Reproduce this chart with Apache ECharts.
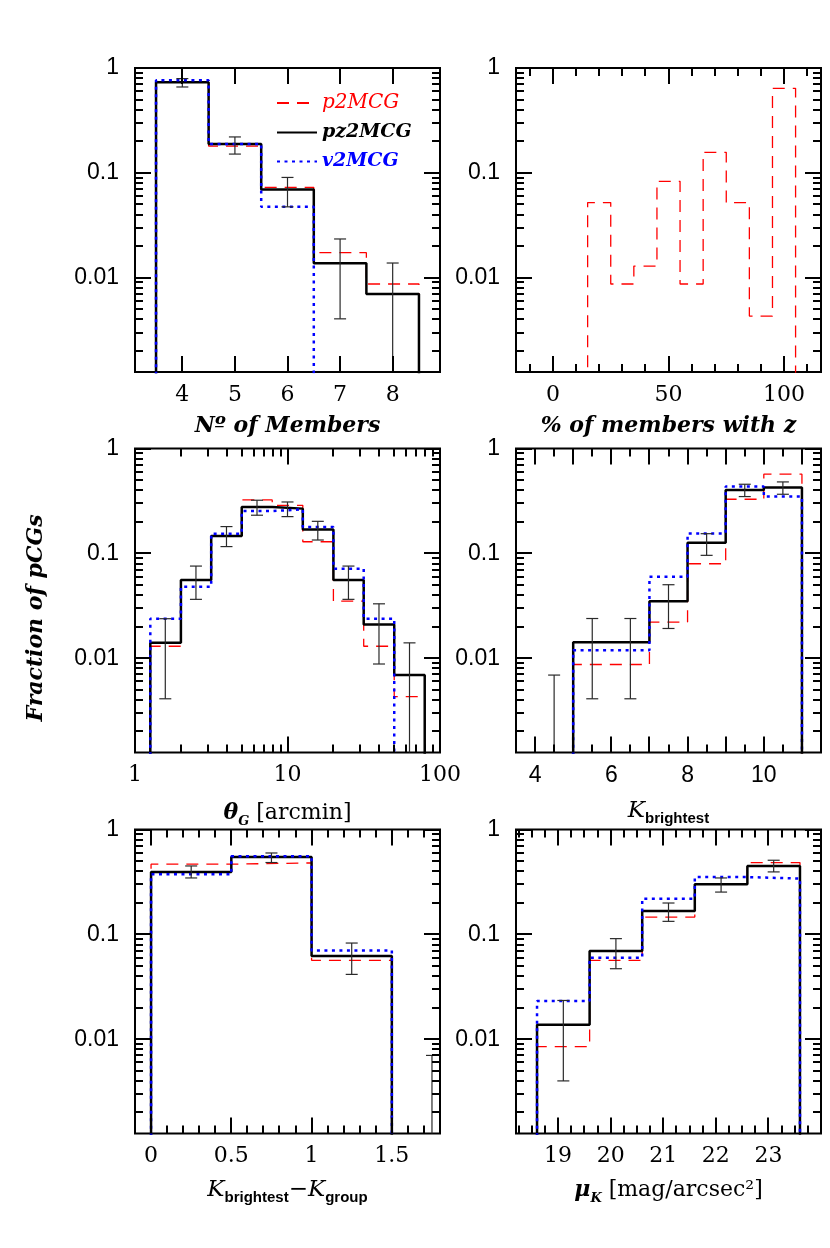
<!DOCTYPE html>
<html>
<head>
<meta charset="utf-8">
<script src="https://cdn.jsdelivr.net/npm/echarts@6.0.0/dist/echarts.min.js"></script>
<style>
html,body{margin:0;padding:0;background:#ffffff;}
#chart{width:830px;height:1248px;}
</style>
</head>
<body>
<div id="chart"></div>
<script>
// ================= DATA =================
// shared y (fraction of pCGs) ticks
const yMajorTicks = [0.01, 0.1, 1];
const yMinorTicks = [0.002,0.003,0.004,0.005,0.006,0.007,0.008,0.009,
                     0.02,0.03,0.04,0.05,0.06,0.07,0.08,0.09,
                     0.2,0.3,0.4,0.5,0.6,0.7,0.8,0.9];
const yTickLabels = [0.01, 0.1, 1];

// Panel 1: number of members
const memEdges = [3.5, 4.5, 5.5, 6.5, 7.5, 8.5];
const memP2  = [0.74, 0.180, 0.0726, 0.0173, 0.0087];
const memPz2 = [0.73, 0.188, 0.0695, 0.0137, 0.0070];
const memV2  = [0.764, 0.188, 0.0474];
const memErrX  = [4, 5, 6, 7, 8];
const memErrLo = [0.659, 0.151, 0.0474, 0.00405, 0.0005];
const memErrHi = [0.792, 0.220, 0.0904, 0.0234, 0.0138];
const memMajorTicks = [4, 5, 6, 7, 8];
const memMinorTicks = [];
const memTickLabels = [4, 5, 6, 7, 8];

// Panel 2: % of members with z
const zfEdges = [15, 25, 35, 45, 55, 65, 75, 85, 95, 105];
const zfP2 = [0.052, 0.0087, 0.0129, 0.083, 0.0087, 0.157, 0.052, 0.0043, 0.64];
const zfMajorTicks = [0, 50, 100];
const zfMinorTicks = [-10, 10, 20, 30, 40, 60, 70, 80, 90, 110];
const zfTickLabels = [0, 50, 100];

// Panel 3: theta_G [arcmin]
const thEdges = [1.26, 2.00, 3.16, 5.01, 7.94, 12.6, 20.0, 31.6, 50.1, 79.4];
const thP2  = [0.013, 0.0556, 0.146, 0.323, 0.287, 0.129, 0.035, 0.013, 0.0043];
const thPz2 = [0.014, 0.0556, 0.146, 0.277, 0.267, 0.169, 0.0556, 0.021, 0.0069];
const thV2  = [0.0238, 0.048, 0.154, 0.253, 0.263, 0.178, 0.0714, 0.0238];
const thErrX  = [1.58, 2.51, 3.98, 6.31, 10, 15.8, 25.1, 39.8, 63.1];
const thErrLo = [0.0041, 0.0364, 0.116, 0.231, 0.224, 0.134, 0.0364, 0.0088, 0.0005];
const thErrHi = [0.0238, 0.0756, 0.180, 0.321, 0.309, 0.202, 0.0756, 0.033, 0.014];
const thMajorTicks = [10];
const thMinorTicks = [2,3,4,5,6,7,8,9,20,30,40,50,60,70,80,90];
const thTickLabels = [1, 10, 100];

// Panel 4: K_brightest
const kbEdges = [5, 6, 7, 8, 9, 10, 11];
const kbP2  = [0.0087, 0.0087, 0.0221, 0.0796, 0.328, 0.569];
const kbPz2 = [0.0142, 0.0142, 0.035, 0.126, 0.403, 0.425];
const kbV2  = [0.0119, 0.0119, 0.0599, 0.155, 0.434, 0.348];
const kbErrX  = [4.5, 5.5, 6.5, 7.5, 8.5, 9.5, 10.5];
const kbErrLo = [0.0005, 0.0041, 0.0041, 0.0192, 0.0957, 0.348, 0.366];
const kbErrHi = [0.0069, 0.0239, 0.0239, 0.0502, 0.154, 0.456, 0.48];
const kbMajorTicks = [4, 5, 6, 7, 8, 9, 10, 11];
const kbMinorTicks = [4.5, 5.5, 6.5, 7.5, 8.5, 9.5, 10.5];
const kbTickLabels = [4, 6, 8, 10];

// Panel 5: K_brightest - K_group
const dkEdges = [0, 0.5, 1, 1.5];
const dkP2  = [0.467, 0.48, 0.0565];
const dkPz2 = [0.394, 0.547, 0.062];
const dkV2  = [0.374, 0.555, 0.0703];
const dkErrX  = [0.25, 0.75, 1.25, 1.75];
const dkErrLo = [0.345, 0.484, 0.0415, 0.0005];
const dkErrHi = [0.449, 0.597, 0.0826, 0.0070];
const dkMajorTicks = [0, 0.5, 1, 1.5];
const dkMinorTicks = [0.1,0.2,0.3,0.4,0.6,0.7,0.8,0.9,1.1,1.2,1.3,1.4,1.6,1.7];
const dkTickLabels = [0, 0.5, 1, 1.5];

// Panel 6: mu_K [mag/arcsec^2]
const muEdges = [18.6, 19.6, 20.6, 21.6, 22.6, 23.6];
const muP2  = [0.0085, 0.0565, 0.146, 0.30, 0.484];
const muPz2 = [0.0137, 0.0693, 0.167, 0.301, 0.449];
const muV2  = [0.0231, 0.0599, 0.219, 0.352, 0.340];
const muErrX  = [19.1, 20.1, 21.1, 22.1, 23.1];
const muErrLo = [0.0040, 0.047, 0.133, 0.253, 0.394];
const muErrHi = [0.0234, 0.091, 0.199, 0.345, 0.509];
const muMajorTicks = [19, 20, 21, 22, 23];
const muMinorTicks = [18.25,18.5,18.75,19.25,19.5,19.75,20.25,20.5,20.75,21.25,21.5,21.75,
                      22.25,22.5,22.75,23.25,23.5,23.75];
const muTickLabels = [19, 20, 21, 22, 23];

// ================= LAYOUT / STYLE =================
const SERIF = 'DejaVu Serif';
const SANS = 'Liberation Sans';
const Y_MIN = 0.00126, Y_MAX = 1;
const FLOOR = 1e-4;
const GW = 305, GH = 304;

const lineStyles = {
  p2MCG:  {color: '#ff0000', width: 1.3, type: [12, 8]},
  pz2MCG: {color: '#000000', width: 2.5, type: 'solid'},
  v2MCG:  {color: '#0000ff', width: 2.5, type: [3, 4.5]}
};
const zOf = {p2MCG: 2, pz2MCG: 3, v2MCG: 4};

const rich = {
  t: {fontFamily: SERIF, fontStyle: 'italic', fontWeight: 'bold', fontSize: 22, lineHeight: 26, color: '#000'},
  i: {fontFamily: SERIF, fontStyle: 'italic', fontWeight: 'bold', fontSize: 22, lineHeight: 26, color: '#000'},
  s: {fontFamily: SERIF, fontStyle: 'italic', fontWeight: 'bold', fontSize: 13, lineHeight: 16, padding: [16, 0, 0, 0], color: '#000'},
  r: {fontFamily: SERIF, fontSize: 22, lineHeight: 26, color: '#000'},
  k: {fontFamily: SERIF, fontStyle: 'italic', fontSize: 23, lineHeight: 26, color: '#000'},
  b: {fontFamily: SANS, fontWeight: 'bold', fontSize: 15, lineHeight: 17, padding: [14, 0, 0, 0], color: '#000'}
};

const panels = [
  {left: 135, top: 68, xType: 'value', xMin: 3.1, xMax: 8.9,
   xMajor: memMajorTicks, xMinor: memMinorTicks, xLabels: memTickLabels, labelFont: SERIF, labelSize: 22,
   name: '{t|Nº of Members}', nameGap: 41,
   hists: [['p2MCG', memEdges, memP2], ['pz2MCG', memEdges, memPz2], ['v2MCG', memEdges, memV2]],
   err: [memErrX, memErrLo, memErrHi]},
  {left: 516, top: 68, xType: 'value', xMin: -16, xMax: 116,
   xMajor: zfMajorTicks, xMinor: zfMinorTicks, xLabels: zfTickLabels, labelFont: SERIF, labelSize: 22,
   name: '{t|% of members with z}', nameGap: 41,
   hists: [['p2MCG', zfEdges, zfP2]],
   err: null},
  {left: 135, top: 448.5, xType: 'log', xMin: 1, xMax: 100,
   xMajor: thMajorTicks, xMinor: thMinorTicks, xLabels: thTickLabels, labelFont: SERIF, labelSize: 22,
   name: '{i|θ}{s|G}{r| [arcmin]}', nameGap: 48,
   hists: [['p2MCG', thEdges, thP2], ['pz2MCG', thEdges, thPz2], ['v2MCG', thEdges, thV2]],
   err: [thErrX, thErrLo, thErrHi]},
  {left: 516, top: 448.5, xType: 'value', xMin: 3.5, xMax: 11.5,
   xMajor: kbMajorTicks, xMinor: kbMinorTicks, xLabels: kbTickLabels, labelFont: SANS, labelSize: 23,
   name: '{k|K}{b|brightest}', nameGap: 46,
   hists: [['p2MCG', kbEdges, kbP2], ['pz2MCG', kbEdges, kbPz2], ['v2MCG', kbEdges, kbV2]],
   err: [kbErrX, kbErrLo, kbErrHi]},
  {left: 135, top: 829.5, xType: 'value', xMin: -0.1, xMax: 1.8,
   xMajor: dkMajorTicks, xMinor: dkMinorTicks, xLabels: dkTickLabels, labelFont: SERIF, labelSize: 22,
   name: '{k|K}{b|brightest}{k|−K}{b|group}', nameGap: 44,
   hists: [['p2MCG', dkEdges, dkP2], ['pz2MCG', dkEdges, dkPz2], ['v2MCG', dkEdges, dkV2]],
   err: [dkErrX, dkErrLo, dkErrHi]},
  {left: 516, top: 829.5, xType: 'value', xMin: 18.2, xMax: 24.0,
   xMajor: muMajorTicks, xMinor: muMinorTicks, xLabels: muTickLabels, labelFont: SERIF, labelSize: 22,
   name: '{i|μ}{s|K}{r| [mag/arcsec²]}', nameGap: 44,
   hists: [['p2MCG', muEdges, muP2], ['pz2MCG', muEdges, muPz2], ['v2MCG', muEdges, muV2]],
   err: [muErrX, muErrLo, muErrHi]}
];

function stepData(edges, vals) {
  const pts = [[edges[0], FLOOR]];
  vals.forEach((v, k) => { pts.push([edges[k], v]); pts.push([edges[k + 1], v]); });
  pts.push([edges[vals.length], FLOOR]);
  return pts;
}
function fmtNum(v) { return String(+(+v).toPrecision(6)); }

const grids = [], xAxes = [], yAxes = [], series = [];
panels.forEach((p, i) => {
  grids.push({left: p.left, top: p.top, width: GW, height: GH, show: true,
    borderColor: '#000', borderWidth: 2, backgroundColor: 'transparent',
    containLabel: false, outerBoundsMode: 'none'});
  const xa = {gridIndex: i, type: p.xType, min: p.xMin, max: p.xMax,
    axisLine: {show: false, onZero: false}, axisTick: {show: false}, splitLine: {show: false},
    minorTick: {show: false}, minorSplitLine: {show: false},
    axisLabel: {customValues: p.xLabels, formatter: fmtNum, fontFamily: p.labelFont,
      fontSize: p.labelSize, color: '#000', margin: 12, hideOverlap: false},
    name: p.name, nameLocation: 'middle', nameGap: p.nameGap, nameMoveOverlap: false,
    nameTextStyle: {rich: rich, color: '#000'}};
  if (p.xType === 'log') xa.logBase = 10;
  xAxes.push(xa);
  yAxes.push({gridIndex: i, type: 'log', logBase: 10, min: Y_MIN, max: Y_MAX,
    axisLine: {show: false, onZero: false}, axisTick: {show: false}, splitLine: {show: false},
    minorTick: {show: false}, minorSplitLine: {show: false},
    axisLabel: {customValues: yTickLabels, formatter: fmtNum, fontFamily: SANS, fontSize: 23,
      color: '#000', margin: 16, hideOverlap: false}});

  p.hists.forEach(h => {
    const name = h[0];
    series.push({type: 'line', name: name, xAxisIndex: i, yAxisIndex: i,
      data: stepData(h[1], h[2]), symbol: 'none', showSymbol: false, clip: true,
      z: zOf[name], lineStyle: lineStyles[name], itemStyle: {color: lineStyles[name].color},
      emphasis: {disabled: true}, animation: false, silent: true});
  });

  if (p.err) {
    const [ex, lo, hi] = p.err;
    series.push({type: 'custom', xAxisIndex: i, yAxisIndex: i, silent: true, z: 5,
      animation: false,
      data: ex.map((x, k) => [x, lo[k], hi[k]]),
      encode: {x: 0, y: [1, 2]},
      renderItem: function (params, api) {
        const cs = params.coordSys;
        const bottom = cs.y + cs.height;
        const x = api.value(0);
        const a = api.coord([x, api.value(1)]);
        const b = api.coord([x, api.value(2)]);
        const st = {stroke: '#2a2a2a', lineWidth: 1.2};
        const kids = [];
        kids.push({type: 'line', shape: {x1: a[0], y1: Math.min(a[1], bottom), x2: b[0], y2: b[1]}, style: st});
        kids.push({type: 'line', shape: {x1: b[0] - 6, y1: b[1], x2: b[0] + 6, y2: b[1]}, style: st});
        if (a[1] <= bottom) kids.push({type: 'line', shape: {x1: a[0] - 6, y1: a[1], x2: a[0] + 6, y2: a[1]}, style: st});
        return {type: 'group', children: kids};
      }});
  }

  // inward ticks on all four sides
  series.push({type: 'custom', xAxisIndex: i, yAxisIndex: i, silent: true, z: 6,
    animation: false, data: [[p.xMin, Y_MAX]], encode: {x: 0, y: 1},
    renderItem: function (params, api) {
      const cs = params.coordSys;
      const bottom = cs.y + cs.height, right = cs.x + cs.width;
      const st = {stroke: '#000', lineWidth: 2};
      const kids = [];
      const addX = (v, L) => {
        const px = Math.round(api.coord([v, Y_MAX])[0]);
        kids.push({type: 'line', shape: {x1: px, y1: bottom, x2: px, y2: bottom - L}, style: st});
        kids.push({type: 'line', shape: {x1: px, y1: cs.y, x2: px, y2: cs.y + L}, style: st});
      };
      const addY = (v, L) => {
        const py = Math.round(api.coord([p.xMin, v])[1]);
        kids.push({type: 'line', shape: {x1: cs.x, y1: py, x2: cs.x + L, y2: py}, style: st});
        kids.push({type: 'line', shape: {x1: right, y1: py, x2: right - L, y2: py}, style: st});
      };
      p.xMajor.forEach(v => addX(v, 16));
      p.xMinor.forEach(v => addX(v, 8));
      yMajorTicks.forEach(v => addY(v, 16));
      yMinorTicks.forEach(v => addY(v, 8));
      return {type: 'group', children: kids};
    }});
});

const chart = echarts.init(document.getElementById('chart'), null, {renderer: 'canvas'});
chart.setOption({
  backgroundColor: '#ffffff',
  animation: false,
  grid: grids,
  xAxis: xAxes,
  yAxis: yAxes,
  legend: {
    orient: 'vertical', left: 276, top: 93, padding: 0, itemWidth: 40, itemHeight: 14, itemGap: 10,
    selectedMode: false,
    itemStyle: {opacity: 0, color: 'rgba(0,0,0,0)', borderColor: 'rgba(0,0,0,0)', borderWidth: 0},
    data: [
      {name: 'p2MCG', textStyle: {color: '#ff0000', fontFamily: SERIF, fontStyle: 'italic', fontSize: 20}},
      {name: 'pz2MCG', textStyle: {color: '#000000', fontFamily: SERIF, fontStyle: 'italic', fontWeight: 'bold', fontSize: 19}},
      {name: 'v2MCG', textStyle: {color: '#0000ff', fontFamily: SERIF, fontStyle: 'italic', fontWeight: 'bold', fontSize: 19}}
    ]
  },
  graphic: [{
    type: 'text', x: 36, y: 618, rotation: Math.PI / 2,
    style: {text: 'Fraction of pCGs', fill: '#000', font: 'italic bold 22px "DejaVu Serif"',
      align: 'center', verticalAlign: 'middle', textAlign: 'center', textVerticalAlign: 'middle'}
  }],
  series: series
});
</script>
</body>
</html>
